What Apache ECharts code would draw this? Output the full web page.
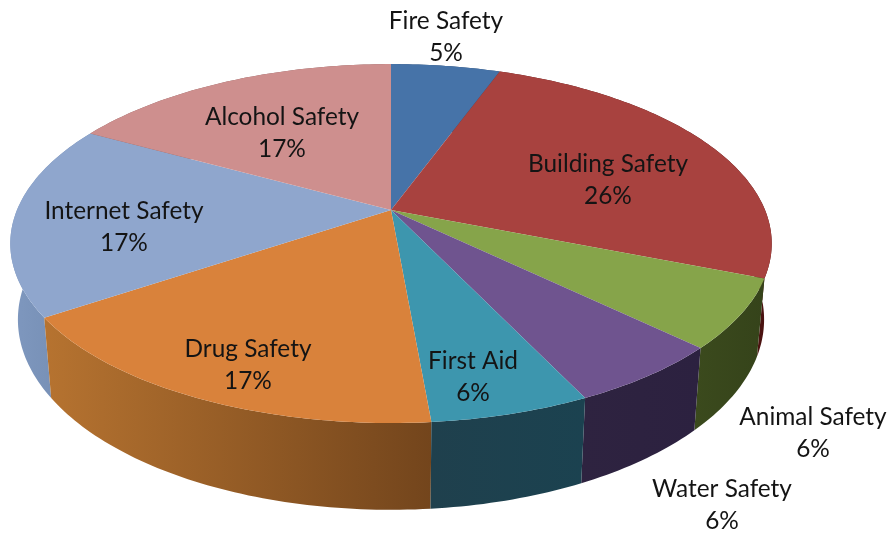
<!DOCTYPE html>
<html>
<head>
<meta charset="utf-8">
<style>html,body{margin:0;padding:0;background:#fff}#c{width:893px;height:536px}</style>
<script src="https://cdn.jsdelivr.net/npm/echarts@6/dist/echarts.min.js"></script>
</head>
<body>
<div id="c"></div>
<script>
// Data
const categories = ['Fire Safety','Building Safety','Animal Safety','Water Safety','First Aid','Drug Safety','Internet Safety','Alcohol Safety'];
const printedPercents = [5,26,6,6,6,17,17,17];
const sliceShares = [5.55,25.45,6.2,5.7,5.7,17,17.4,17];

// Styles
const topColors = ['#4673a8','#a8423f','#86a44a','#6f548f','#3d96ae','#d9823b','#8fa6cd','#ce8f8e'];
const wallColors = [
  ['#2c4a70','#2c4a70'],['#5c1a18','#4a1210'],['#3b4a1d','#35431a'],['#2e2340','#2c2140'],
  ['#1f404d','#1b4250'],['#b67330','#73451c'],['#7f98bf','#7089ae'],['#8a5f5e','#8a5f5e']
];
// Layout (perspective projection of the disc, and label anchors in pixels)
const geo = {cx:391, cy:210, a:374, b:173.2, k:-0.187, shrink:0.98, depth:74};
const labelAnchors = [[446,37],[608,180],[813,433],[722,505],[473,377],[248,365],[124,227],[282,133]];

function topPoint(t){
  const u=Math.sin(t), v=-Math.cos(t), d=1+geo.k*v;
  return [geo.cx+geo.a*u/d, geo.cy+geo.b*v/d];
}
function bottomPoint(t){
  const u=Math.sin(t), v=-Math.cos(t), d=1+geo.k*v;
  return [geo.cx+geo.shrink*geo.a*u/d, geo.cy+(geo.shrink*geo.b*v+geo.depth)/d];
}
function arc(fn,t0,t1){
  const n=Math.max(2,Math.ceil((t1-t0)*180/Math.PI)), p=[];
  for(let i=0;i<=n;i++) p.push(fn(t0+(t1-t0)*i/n));
  return p;
}
const total = sliceShares.reduce((s,x)=>s+x,0);
function sliceRange(i){
  let before=0;
  for(let j=0;j<i;j++) before+=sliceShares[j];
  return [before/total*2*Math.PI,(before+sliceShares[i])/total*2*Math.PI];
}
const rows = categories.map((n,i)=>({name:n,value:[sliceShares[i],i]}));

const chart = echarts.init(document.getElementById('c'),null,{renderer:'canvas'});
chart.setOption({
  backgroundColor:'#ffffff',
  animation:false,
  series:[
    { // outer walls
      type:'custom', coordinateSystem:'none', silent:true, z:1, data:rows,
      renderItem(params,api){
        const i=api.value(1), [t0,t1]=sliceRange(i);
        const pts=arc(topPoint,t0,t1).concat(arc(bottomPoint,t0,t1).reverse());
        const mid=-Math.cos((t0+t1)/2);
        return {type:'polygon', z2:Math.round(mid*100)+100, shape:{points:pts},
          style:{fill:new echarts.graphic.LinearGradient(0,0,1,0,[{offset:0,color:wallColors[i][0]},{offset:1,color:wallColors[i][1]}])}};
      }
    },
    { // top faces
      type:'custom', coordinateSystem:'none', silent:true, z:2, data:rows,
      renderItem(params,api){
        const i=api.value(1), [t0,t1]=sliceRange(i);
        const pts=[[geo.cx,geo.cy]].concat(arc(topPoint,t0,t1));
        return {type:'polygon', shape:{points:pts}, style:{fill:topColors[i]}};
      }
    },
    { // labels
      type:'custom', coordinateSystem:'none', silent:true, z:3, data:rows,
      renderItem(params,api){
        const i=api.value(1);
        return {type:'text', style:{
          text:categories[i]+'\n'+printedPercents[i]+'%',
          x:labelAnchors[i][0], y:labelAnchors[i][1],
          align:'center', verticalAlign:'middle',
          font:'24.4px Lato', lineHeight:32, fill:'#141414'
        }};
      }
    }
  ]
});
</script>
</body>
</html>
